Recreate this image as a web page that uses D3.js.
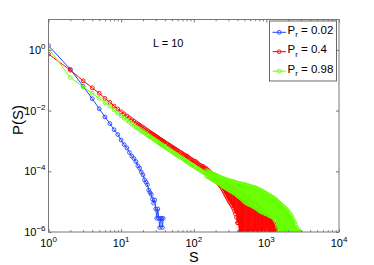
<!DOCTYPE html>
<html><head><meta charset="utf-8">
<script src="https://cdn.jsdelivr.net/npm/d3@7"></script>
<style>body{margin:0;background:#fff} svg{display:block;font-family:Helvetica, Arial, "Liberation Sans", sans-serif}</style>
</head><body><svg id="c" width="374" height="265"></svg>
<script>
// ---- data (log10 P values) ----
const xTickVals = [1, 10, 100, 1000, 10000];
const yTickVals = [1e-6, 1e-4, 1e-2, 1];
const legendLabels = ["0.02", "0.4", "0.98"];

const blueS = [1,2,3,4,5,6,7,8,9,10,11,12,13,14,15,16,17,18,19,20,21,22,23,24,25,26,27,28,29,30,31,32,33,34,35,36,37,38];
const blueLogP = [0.14,-0.64,-1.20,-1.61,-1.94,-2.21,-2.43,-2.63,-2.79,-2.97,-3.12,-3.23,-3.38,-3.50,-3.58,-3.68,-3.82,-3.90,-4.03,-4.12,-4.28,-4.36,-4.44,-4.62,-4.70,-4.76,-4.92,-5.05,-4.95,-5.24,-5.55,-5.24,-5.55,-5.85,-5.55,-5.55,-5.85,-5.55];

// sizes with one point each (S = 1 ... 145)
const midS = [1,2,3,4,5,6,7,8,9,10,11,12,13,14,15,16,17,18,19,20,
  21,22,23,24,25,26,27,28,29,30,31,32,33,34,35,36,37,38,39,40,
  42,44,46,48,50,52,54,56,58,60,
  63,66,69,72,75,78,81,84,87,90,94,98,102,106,110,115,120,125,130,135,140,145];
const redMidLogP = [-0.14,-0.67,-1.02,-1.25,-1.43,-1.60,-1.73,-1.85,-1.95,-2.04,-2.11,-2.18,-2.24,-2.30,-2.35,-2.40,-2.44,-2.48,-2.52,-2.56,
  -2.59,-2.63,-2.66,-2.69,-2.72,-2.75,-2.77,-2.80,-2.82,-2.85,-2.87,-2.89,-2.92,-2.94,-2.96,-2.98,-3.00,-3.02,-3.03,-3.05,
  -3.08,-3.11,-3.14,-3.17,-3.20,-3.22,-3.25,-3.27,-3.30,-3.32,
  -3.35,-3.38,-3.41,-3.44,-3.47,-3.49,-3.50,-3.54,-3.58,-3.59,-3.62,-3.65,-3.67,-3.68,-3.72,-3.75,-3.80,-3.81,-3.84,-3.84,-3.89,-3.91];
const greenMidLogP = [0.05,-0.91,-1.22,-1.43,-1.60,-1.74,-1.86,-1.98,-2.09,-2.18,-2.25,-2.32,-2.38,-2.44,-2.49,-2.54,-2.58,-2.63,-2.67,-2.70,
  -2.73,-2.77,-2.80,-2.83,-2.86,-2.89,-2.91,-2.94,-2.96,-2.99,-3.01,-3.03,-3.06,-3.08,-3.10,-3.12,-3.14,-3.16,-3.17,-3.19,
  -3.23,-3.26,-3.29,-3.32,-3.35,-3.38,-3.40,-3.43,-3.45,-3.48,
  -3.51,-3.54,-3.57,-3.60,-3.63,-3.66,-3.68,-3.71,-3.73,-3.76,-3.79,-3.82,-3.84,-3.87,-3.89,-3.92,-3.95,-3.98,-4.00,-4.03,-4.05,-4.07];

// noisy tail: per pixel column, the highest and lowest log10 P reached
const tailS = [150,155,160,165,170,176,181,187,193,199,206,212,219,226,233,241,249,257,265,273,282,291,301,310,320,331,341,352,364,375,387,400,413,426,440,454,469,484,499,515,532,549,567,585,604,623,643,664,686,708,730,754,778,803,829,856,884,912,941,972,1003,1035,1069,1103,1139,1175,1213,1252,1293,1334,1377,1422,1468,1515,1564,1614,1666,1720,1775,1833,1892,1953,2016,2080,2147,2217,2288,2362,2438,2517,2598,2681,2768,2857,2949];
const redTailHi = [-3.92,-3.96,-3.99,-4.02,-4.05,-4.08,-4.11,-4.14,-4.17,-4.20,
  -4.22,-4.25,-4.27,-4.29,-4.31,-4.33,-4.35,-4.37,-4.39,-4.41,
  -4.43,-4.45,-4.47,-4.49,-4.51,-4.53,-4.55,-4.57,-4.59,-4.61,
  -4.63,-4.65,-4.67,-4.69,-4.71,-4.73,-4.76,-4.79,-4.82,-4.85,
  -4.87,-4.90,-4.93,-4.96,-4.98,-5.00,-5.03,-5.05,-5.07,-5.10,
  -5.12,-5.15,-5.17,-5.20,-5.22,-5.25,-5.28,-5.30,-5.33,-5.37,
  -5.40,-5.44,-5.48,-5.52,-5.56,-5.60,-5.65,-5.70,-5.76,-5.82,
  -5.88,-5.95];
const redTailLo = [-4.02,-4.05,-4.08,-4.10,-4.13,-4.16,-4.19,-4.22,-4.25,-4.28,
  -4.32,-4.36,-4.40,-4.44,-4.48,-4.52,-4.58,-4.64,-4.70,-4.76,
  -4.82,-4.88,-4.95,-5.00,-5.05,-5.10,-5.15,-5.22,-5.30,-5.40,
  -5.52,-5.70,-5.70,-6,-6,-6,-6,-6,-6,-6,
  -6,-6,-6,-6,-6,-6,-6,-6,-6,-6,
  -6,-6,-6,-6,-6,-6,-6,-6,-6,-6,
  -6,-6,-6,-6,-6,-6,-6,-6,-6,-6,
  -6,-6];
const greenTailHi = [-3.98,-4.00,-4.02,-4.03,-4.05,-4.07,-4.08,-4.10,-4.11,-4.13,
  -4.14,-4.16,-4.17,-4.19,-4.20,-4.22,-4.23,-4.24,-4.26,-4.27,
  -4.28,-4.29,-4.30,-4.31,-4.32,-4.33,-4.34,-4.35,-4.36,-4.37,
  -4.38,-4.39,-4.40,-4.40,-4.41,-4.42,-4.43,-4.43,-4.44,-4.45,
  -4.46,-4.47,-4.48,-4.49,-4.50,-4.51,-4.52,-4.53,-4.54,-4.55,
  -4.56,-4.58,-4.60,-4.61,-4.63,-4.65,-4.66,-4.68,-4.70,-4.72,
  -4.74,-4.76,-4.78,-4.80,-4.82,-4.84,-4.86,-4.88,-4.90,-4.93,
  -4.96,-4.99,-5.02,-5.05,-5.08,-5.11,-5.14,-5.17,-5.20,-5.23,
  -5.26,-5.30,-5.34,-5.38,-5.43,-5.48,-5.54,-5.61,-5.68,-5.76,
  -5.84,-5.90,-5.95,-5.98,-6.00];
const greenTailLo = [-4.15,-4.17,-4.19,-4.21,-4.23,-4.25,-4.27,-4.29,-4.31,-4.33,
  -4.35,-4.37,-4.39,-4.41,-4.43,-4.45,-4.48,-4.50,-4.52,-4.54,
  -4.56,-4.58,-4.60,-4.62,-4.64,-4.66,-4.68,-4.70,-4.72,-4.74,
  -4.77,-4.80,-4.82,-4.85,-4.87,-4.90,-4.93,-4.96,-5.00,-5.02,
  -5.04,-5.06,-5.08,-5.09,-5.10,-5.12,-5.14,-5.16,-5.18,-5.20,
  -5.22,-5.24,-5.27,-5.30,-5.31,-5.33,-5.35,-5.36,-5.38,-5.39,
  -5.40,-5.42,-5.44,-5.46,-5.48,-5.49,-5.50,-5.52,-5.55,-5.60,
  -5.70,-5.85,-6,-6,-6,-6,-6,-6,-6,-6,
  -6,-6,-6,-6,-6,-6,-6,-6,-6,-6,
  -6,-6,-6,-6,-6];

// ---- layout ----
const svg = d3.select("#c");
const L = 48.5, R = 339, T = 19.5, B = 232;
const x = d3.scaleLog().domain([1, 1e4]).range([L, R]);
const y = d3.scaleLog().domain([1e-6, 10]).range([B, T]);

const colors = ["#2244ff", "#ff0000", "#66ff00"];
const toPts = (S, lp) => lp.map((v, i) => [S[i], Math.pow(10, v)]);
const tailPts = (hi, lo) => {
  const out = [];
  hi.forEach((h, i) => {
    const a = [tailS[i], Math.pow(10, h)], b = [tailS[i], Math.pow(10, lo[i])];
    if (i % 2 === 0) out.push(a, b); else out.push(b, a);
  });
  return out;
};
const series = [
  toPts(blueS, blueLogP),
  toPts(midS, redMidLogP).concat(tailPts(redTailHi, redTailLo)),
  toPts(midS, greenMidLogP).concat(tailPts(greenTailHi, greenTailLo))
];

svg.append("defs").append("clipPath").attr("id", "pc")
  .append("rect").attr("x", L).attr("y", T).attr("width", R - L).attr("height", B - T);

const line = d3.line().x(d => x(d[0])).y(d => y(d[1]));
const dataG = svg.append("g").attr("clip-path", "url(#pc)");
series.forEach((pts, k) => {
  const g = dataG.append("g");
  g.append("path").attr("d", line(pts)).attr("fill", "none")
    .attr("stroke", colors[k]).attr("stroke-width", 1);
  g.selectAll("circle").data(pts).enter().append("circle")
    .attr("cx", d => x(d[0])).attr("cy", d => y(d[1])).attr("r", 1.9)
    .attr("fill", "none").attr("stroke", colors[k]).attr("stroke-width", 0.9);
});

// ---- axes ----
const axCol = "#777";
const ax = svg.append("g");
ax.append("rect").attr("x", L).attr("y", T).attr("width", R - L).attr("height", B - T)
  .attr("fill", "none").attr("stroke", axCol).attr("stroke-width", 1);

const minorX = [];
[1, 10, 100, 1000].forEach(d => { for (let m = 2; m <= 9; m++) minorX.push(d * m); });
const xb = d3.axisBottom(x).tickValues(xTickVals).tickSize(-3).tickFormat("");
const xt = d3.axisTop(x).tickValues(xTickVals).tickSize(-3).tickFormat("");
const xbm = d3.axisBottom(x).tickValues(minorX).tickSize(-1.8).tickFormat("");
const xtm = d3.axisTop(x).tickValues(minorX).tickSize(-1.8).tickFormat("");
const yl = d3.axisLeft(y).tickValues(yTickVals).tickSize(-3).tickFormat("");
const yr = d3.axisRight(y).tickValues(yTickVals).tickSize(-3).tickFormat("");
[[xb, `translate(0,${B})`], [xt, `translate(0,${T})`], [xbm, `translate(0,${B})`], [xtm, `translate(0,${T})`],
 [yl, `translate(${L},0)`], [yr, `translate(${R},0)`]].forEach(([a, tr]) => {
  const g = ax.append("g").attr("transform", tr).call(a);
  g.select(".domain").remove();
  g.selectAll("line").attr("stroke", axCol);
});

// tick labels
xTickVals.forEach(v => {
  const t = svg.append("text").attr("x", x(v)).attr("y", 247).attr("text-anchor", "middle")
    .attr("font-size", 11).attr("fill", "#000");
  t.append("tspan").text("10");
  t.append("tspan").attr("dy", -5).attr("font-size", 8).text(String(Math.round(Math.log10(v))));
});
yTickVals.forEach(v => {
  const t = svg.append("text").attr("x", 45.5).attr("y", y(v) + 4).attr("text-anchor", "end")
    .attr("font-size", 11).attr("fill", "#000");
  t.append("tspan").text("10");
  t.append("tspan").attr("dy", -5).attr("font-size", 8).text(String(Math.round(Math.log10(v))).replace("-", "\u2212"));
});

// axis titles
svg.append("text").attr("x", (L + R) / 2).attr("y", 262).attr("text-anchor", "middle")
  .attr("font-size", 14.5).text("S");
svg.append("text").attr("transform", `translate(23,120) rotate(-90)`)
  .attr("text-anchor", "middle").attr("font-size", 15).text("P(S)");

// annotation
svg.append("text").attr("x", 153).attr("y", 47).attr("font-size", 11).text("L = 10");

// legend
const lg = svg.append("g");
lg.append("rect").attr("x", 269.5).attr("y", 21).attr("width", 67).attr("height", 60)
  .attr("fill", "#fff").attr("stroke", "#444").attr("stroke-width", 0.8);
legendLabels.forEach((lab, i) => {
  const ly = 32.3 + i * 19.4;
  lg.append("line").attr("x1", 272.5).attr("x2", 286).attr("y1", ly).attr("y2", ly)
    .attr("stroke", colors[i]).attr("stroke-width", 1);
  lg.append("circle").attr("cx", 279.2).attr("cy", ly).attr("r", 1.9)
    .attr("fill", "none").attr("stroke", colors[i]).attr("stroke-width", 0.9);
  const t = lg.append("text").attr("x", 287.5).attr("y", ly + 1.5).attr("font-size", 11.5).attr("fill", "#000");
  t.append("tspan").text("P");
  t.append("tspan").attr("dy", 3.5).attr("font-size", 8).text("r");
  t.append("tspan").attr("dy", -3.5).text(" = " + lab);
});
</script>
</body></html>
